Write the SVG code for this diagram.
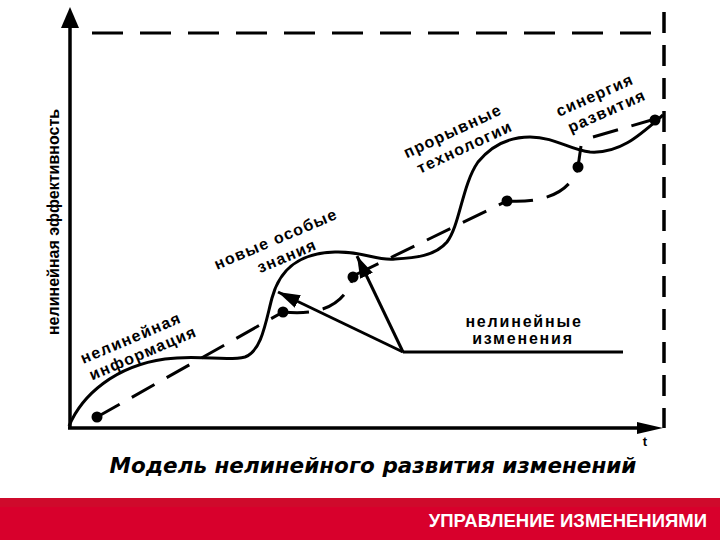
<svg xmlns="http://www.w3.org/2000/svg" width="720" height="540" viewBox="0 0 720 540">
<style>
.ln{fill:none;stroke:#000;stroke-width:3}
.dash{fill:none;stroke:#000;stroke-width:3;stroke-dasharray:26 14}
.frame{fill:none;stroke:#000;stroke-width:3;stroke-dasharray:31 17}
.vframe{fill:none;stroke:#000;stroke-width:3.5;stroke-dasharray:21 12}
.dot{fill:#000}
.lbl{font-family:"Liberation Sans",Arial,sans-serif;font-weight:bold;font-size:16px;letter-spacing:1.3px;fill:#000;text-anchor:middle}
</style>
<defs>
<marker id="ah" markerUnits="userSpaceOnUse" markerWidth="24" markerHeight="16" refX="22" refY="7" orient="auto">
<path d="M0,0 L22,7 L0,14 z" fill="#000"/>
</marker>
</defs>
<rect width="720" height="540" fill="#fff"/>

<g id="axes">
<line x1="70" y1="428" x2="70" y2="24" stroke="#000" stroke-width="3.5"/>
<polygon points="70,7 61,28 79,28" fill="#000"/>
<line x1="68" y1="428" x2="640" y2="428" stroke="#000" stroke-width="3.5"/>
<polygon points="663,428 637,422 637,434" fill="#000"/>
<text x="645" y="446" font-family="Liberation Sans,Arial,sans-serif" font-weight="bold" font-size="13" text-anchor="middle">t</text>
<text transform="translate(59,222) rotate(-90)" font-family="Liberation Sans,Arial,sans-serif" font-weight="bold" font-size="16" text-anchor="middle">нелинейная эффективность</text>
</g>

<g id="frame">
<line class="frame" x1="92" y1="33" x2="664" y2="33"/>
<line class="vframe" x1="664" y1="12" x2="664" y2="428"/>
</g>

<g id="curve">
<path class="ln" d="M69,426 C82,395 115,366 165,359 C200,354 225,362 245,357 C262,351 266,320 272,298 C280,268 300,253 335,252 C365,251 375,261 395,259 C415,258 435,256 447,242 C460,225 462,185 478,162 C492,145 510,137 530,137 C555,137 570,150 590,152 C620,154 640,135 663,115"/>
</g>

<g id="trend">
<path class="dash" d="M97,417 L283,312"/>
<path class="dash" d="M283,312 C320,316 345,305 353,277"/>
<path class="dash" d="M355,275 L507,201"/>
<path class="dash" d="M507,201 C540,203 570,195 578,167"/>
<path class="ln" d="M578,167 L581,146"/>
<path class="dash" d="M593,137 L655,119"/>
<circle class="dot" cx="97" cy="417" r="5.5"/>
<circle class="dot" cx="283" cy="312" r="5.5"/>
<circle class="dot" cx="353" cy="277" r="5.5"/>
<circle class="dot" cx="507" cy="201" r="5.5"/>
<circle class="dot" cx="578" cy="167" r="5.5"/>
<circle class="dot" cx="655" cy="120" r="5.5"/>
</g>

<g id="connectors">
<line class="ln" x1="403" y1="352" x2="623" y2="352"/>
<line class="ln" x1="403" y1="352" x2="278" y2="292" marker-end="url(#ah)"/>
<line class="ln" x1="403" y1="352" x2="357" y2="256" marker-end="url(#ah)"/>
</g>

<g id="label-info">
<text class="lbl" transform="translate(133,343) rotate(-23)">нелинейная</text>
<text class="lbl" transform="translate(145,358) rotate(-23)">информация</text>
</g>
<g id="label-knowledge">
<text class="lbl" transform="translate(278,244) rotate(-23)">новые особые</text>
<text class="lbl" transform="translate(289,261) rotate(-23)">знания</text>
</g>
<g id="label-tech">
<text class="lbl" transform="translate(455,136) rotate(-25)">прорывные</text>
<text class="lbl" transform="translate(467,152) rotate(-25)">технологии</text>
</g>
<g id="label-synergy">
<text class="lbl" transform="translate(597,100) rotate(-24)">синергия</text>
<text class="lbl" transform="translate(609,116) rotate(-24)">развития</text>
</g>
<g id="label-changes">
<text class="lbl" x="524" y="327" style="letter-spacing:1.8px">нелинейные</text>
<text class="lbl" x="523" y="344" style="letter-spacing:1.8px">изменения</text>
</g>

<g id="caption">
<text x="373" y="473" font-family="DejaVu Sans,Verdana,sans-serif" font-weight="bold" font-style="italic" font-size="21.5" text-anchor="middle">Модель нелинейного развития изменений</text>
</g>

<g id="footer">
<rect x="0" y="498" width="720" height="42" fill="#D8002C"/>
<rect x="0" y="498" width="720" height="9" fill="#CF0A2C"/>
<text x="707" y="527" font-family="Liberation Sans,Arial,sans-serif" font-weight="bold" font-size="18.5" fill="#fff" text-anchor="end">УПРАВЛЕНИЕ ИЗМЕНЕНИЯМИ</text>
</g>
</svg>
